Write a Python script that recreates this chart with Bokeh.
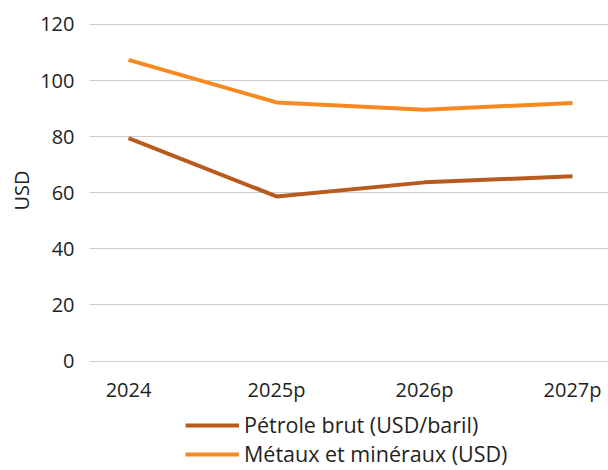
from bokeh.plotting import figure
from bokeh.layouts import column
from bokeh.models import ColumnDataSource, Legend, LegendItem, FixedTicker, Range1d
from bokeh.embed import file_html
from bokeh.resources import INLINE

categories = ["2024", "2025p", "2026p", "2027p"]
petrole = [79.5, 58.7, 63.7, 65.9]
metaux = [107.4, 92.2, 89.6, 92.0]
y_ticks = [0, 20, 40, 60, 80, 100, 120]
label_petrole = "Pétrole brut (USD/baril)"
label_metaux = "Métaux et minéraux (USD)"

FONT = "Open Sans"
TXT = "#231f20"
C_PET = "#B95B1F"
C_MET = "#F68A21"

x_idx = list(range(len(categories)))
src = ColumnDataSource(dict(x=x_idx, petrole=petrole, metaux=metaux))

p = figure(width=608, height=405,
           output_backend="svg", toolbar_location=None,
           x_range=Range1d(-0.2635, 3.243), y_range=Range1d(-1.95, 123.55),
           min_border_left=89, min_border_right=0, min_border_top=14, min_border_bottom=37)
p.outline_line_color = None
p.background_fill_color = "white"
p.border_fill_color = "white"

p.line("x", "petrole", source=src, line_color=C_PET, line_width=4)
p.line("x", "metaux", source=src, line_color=C_MET, line_width=4)

p.xaxis.ticker = FixedTicker(ticks=x_idx)
p.xaxis.major_label_overrides = {i: c for i, c in zip(x_idx, categories)}
p.yaxis.ticker = FixedTicker(ticks=y_ticks)
p.xgrid.grid_line_color = None
p.ygrid.grid_line_color = "#cccccc"
p.ygrid.grid_line_width = 1.2

for ax in (p.xaxis[0], p.yaxis[0]):
    ax.axis_line_color = None
    ax.major_tick_line_color = None
    ax.minor_tick_line_color = None
    ax.major_tick_out = 0
    ax.major_tick_in = 0
    ax.minor_tick_out = 0
    ax.minor_tick_in = 0
    ax.major_label_text_font = FONT
    ax.major_label_text_font_size = "20px"
    ax.major_label_text_color = TXT
p.yaxis.major_label_standoff = 15
p.xaxis.major_label_standoff = 9
p.yaxis.axis_label = "USD"
p.yaxis.axis_label_text_font = FONT
p.yaxis.axis_label_text_font_size = "20px"
p.yaxis.axis_label_text_font_style = "normal"
p.yaxis.axis_label_text_color = TXT
p.yaxis.axis_label_standoff = 2

# legend strip: same series, drawn outside its visible range so only the legend shows
lg = figure(width=608, height=65, output_backend="svg", toolbar_location=None,
            x_range=Range1d(0, 1), y_range=Range1d(1000, 1001),
            min_border_left=0, min_border_right=0, min_border_top=0, min_border_bottom=0)
lg.axis.visible = False
lg.grid.visible = False
lg.outline_line_color = None
lr1 = lg.line("x", "petrole", source=src, line_color=C_PET, line_width=4)
lr2 = lg.line("x", "metaux", source=src, line_color=C_MET, line_width=4)

legend = Legend(items=[LegendItem(label=label_petrole, renderers=[lr1]),
                       LegendItem(label=label_metaux, renderers=[lr2])],
                location=(96, 2), orientation="vertical",
                label_text_font=FONT, label_text_font_size="21.5px", label_text_color=TXT,
                label_text_line_height=1.0,
                glyph_width=54, glyph_height=22, label_height=22, label_standoff=5,
                spacing=0, padding=0, margin=0, border_line_color=None,
                background_fill_alpha=0)
lg.add_layout(legend, "center")

layout = column(p, lg, spacing=0)
open("out.html", "w").write(file_html(layout, INLINE))
